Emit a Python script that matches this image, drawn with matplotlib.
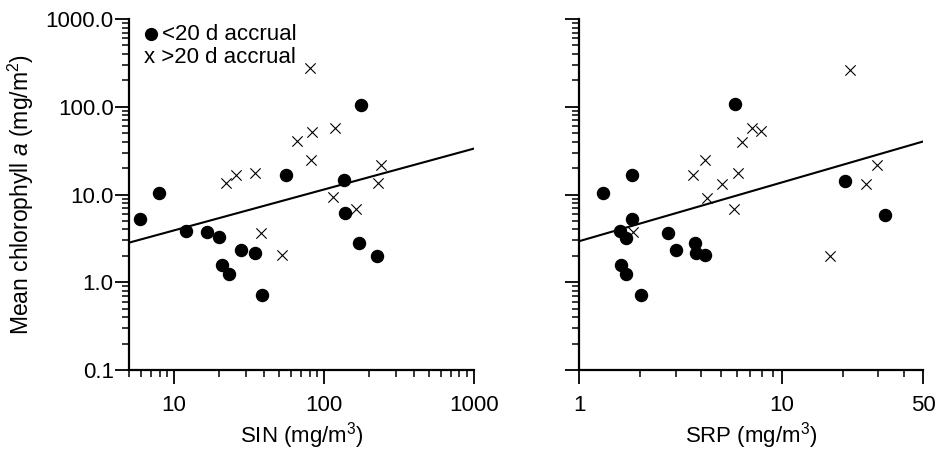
import numpy as np
import matplotlib.pyplot as plt
from matplotlib.ticker import FixedLocator, FixedFormatter, NullFormatter

plt.rcParams['font.family'] = ['Liberation Sans', 'DejaVu Sans']
plt.rcParams['mathtext.fontset'] = 'custom'
plt.rcParams['mathtext.rm'] = 'Liberation Sans'
plt.rcParams['mathtext.it'] = 'Liberation Sans:italic'

# SIN panel, <20 d accrual (dots)
sin_short_x = [5.96, 7.92, 12.05, 16.6, 20.0, 20.8, 23.2, 27.8, 34.7, 38.5, 55.4, 177, 136, 139, 171, 224]
sin_short_y = [5.28, 10.4, 3.88, 3.75, 3.26, 1.56, 1.23, 2.36, 2.16, 0.72, 16.6, 104, 14.7, 6.12, 2.79, 2.0]
# SIN panel, >20 d accrual (crosses)
sin_long_x = [80, 22.1, 25.9, 34.9, 37.9, 52.2, 65.7, 83.4, 81.7, 119, 115, 164, 238, 230]
sin_long_y = [279, 13.5, 16.9, 17.7, 3.62, 2.05, 40.6, 52.3, 24.8, 57.1, 9.33, 6.80, 21.8, 13.7]

# SRP panel, <20 d accrual
srp_short_x = [1.315, 1.817, 1.59, 1.70, 1.817, 1.61, 1.70, 2.01, 2.73, 3.01, 3.75, 3.79, 4.17, 5.85, 20.6, 32.4]
srp_short_y = [10.4, 16.8, 3.89, 3.18, 5.20, 1.59, 1.23, 0.72, 3.66, 2.36, 2.84, 2.14, 2.04, 107, 14.4, 5.89]
# SRP panel, >20 d accrual
srp_long_x = [21.8, 3.63, 4.18, 4.28, 5.08, 6.07, 5.80, 6.36, 7.15, 7.90, 17.4, 26.1, 29.6, 1.84]
srp_long_y = [262, 16.6, 24.6, 9.2, 13.2, 17.5, 6.83, 39.8, 57.5, 52.7, 1.98, 13.2, 21.5, 3.73]

# fitted lines: log10(y) = a + b*log10(x)
sin_fit = (0.126, 0.466)
srp_fit = (0.469, 0.669)

y_major = [0.1, 1, 10, 100, 1000]
y_labels = ['0.1', '1.0', '10.0', '100.0', '1000.0']
y_minor = [m * d for d in [0.1, 1, 10, 100] for m in range(2, 10)]

sin_xlim = (5, 1000)
sin_major = [10, 100, 1000]
sin_labels = ['10', '100', '1000']
sin_minor = [m * d for d in [1, 10, 100] for m in range(2, 10) if m * d >= 5]

srp_xlim = (1, 50)
srp_major = [1, 10, 50]
srp_labels = ['1', '10', '50']
srp_minor = [2, 3, 4, 5, 6, 7, 8, 9, 20, 30, 40]

FS = 16

fig = plt.figure(figsize=(9.48, 4.53), dpi=100)
ax1 = fig.add_axes([0.136, 0.183, 0.364, 0.775])
ax2 = fig.add_axes([0.611, 0.183, 0.363, 0.775])


def setup(ax, xlim, xmaj, xlab, xmin):
    ax.set_xscale('log')
    ax.set_yscale('log')
    ax.set_xlim(*xlim)
    ax.set_ylim(0.1, 1000)
    ax.spines['top'].set_visible(False)
    ax.spines['right'].set_visible(False)
    for s in ['left', 'bottom']:
        ax.spines[s].set_linewidth(1.6)
    ax.xaxis.set_major_locator(FixedLocator(xmaj))
    ax.xaxis.set_major_formatter(FixedFormatter(xlab))
    ax.xaxis.set_minor_locator(FixedLocator(xmin))
    ax.xaxis.set_minor_formatter(NullFormatter())
    ax.yaxis.set_major_locator(FixedLocator(y_major))
    ax.yaxis.set_minor_locator(FixedLocator(y_minor))
    ax.yaxis.set_minor_formatter(NullFormatter())
    ax.tick_params(which='major', direction='out', length=10, width=1.3, labelsize=FS)
    ax.tick_params(which='minor', direction='out', length=5, width=1.1)
    ax.tick_params(axis='x', which='major', pad=8)
    ax.tick_params(axis='y', which='major', pad=1)


def draw(ax, sx, sy, lx, ly, fit, xlim):
    ax.scatter(sx, sy, s=75, color='black', marker='o', zorder=3)
    ax.scatter(lx, ly, s=55, color='black', marker='x', linewidths=0.8, zorder=3)
    xs = np.array(xlim, dtype=float)
    ax.plot(xs, 10 ** (fit[0] + fit[1] * np.log10(xs)), color='black', lw=1.5)


setup(ax1, sin_xlim, sin_major, sin_labels, sin_minor)
setup(ax2, srp_xlim, srp_major, srp_labels, srp_minor)
draw(ax1, sin_short_x, sin_short_y, sin_long_x, sin_long_y, sin_fit, sin_xlim)
draw(ax2, srp_short_x, srp_short_y, srp_long_x, srp_long_y, srp_fit, srp_xlim)

ax1.yaxis.set_major_formatter(FixedFormatter(y_labels))
ax2.yaxis.set_major_formatter(NullFormatter())

ax1.set_ylabel('Mean chlorophyll $\\it{a}$ (mg/m$^2$)', fontsize=16.5, labelpad=7)
ax1.set_xlabel('SIN (mg/m$^3$)', fontsize=FS, labelpad=3)
ax2.set_xlabel('SRP (mg/m$^3$)', fontsize=FS, labelpad=3)

# legend drawn as text
ax1.plot([0.063], [0.956], 'o', color='black', markersize=8.5, transform=ax1.transAxes, clip_on=False)
ax1.text(0.0957, 0.956, '<20 d accrual', fontsize=FS, va='center', ha='left', transform=ax1.transAxes)
ax1.text(0.0435, 0.890, 'x >20 d accrual', fontsize=FS, va='center', ha='left', transform=ax1.transAxes)

plt.savefig('out.png', dpi=100)
